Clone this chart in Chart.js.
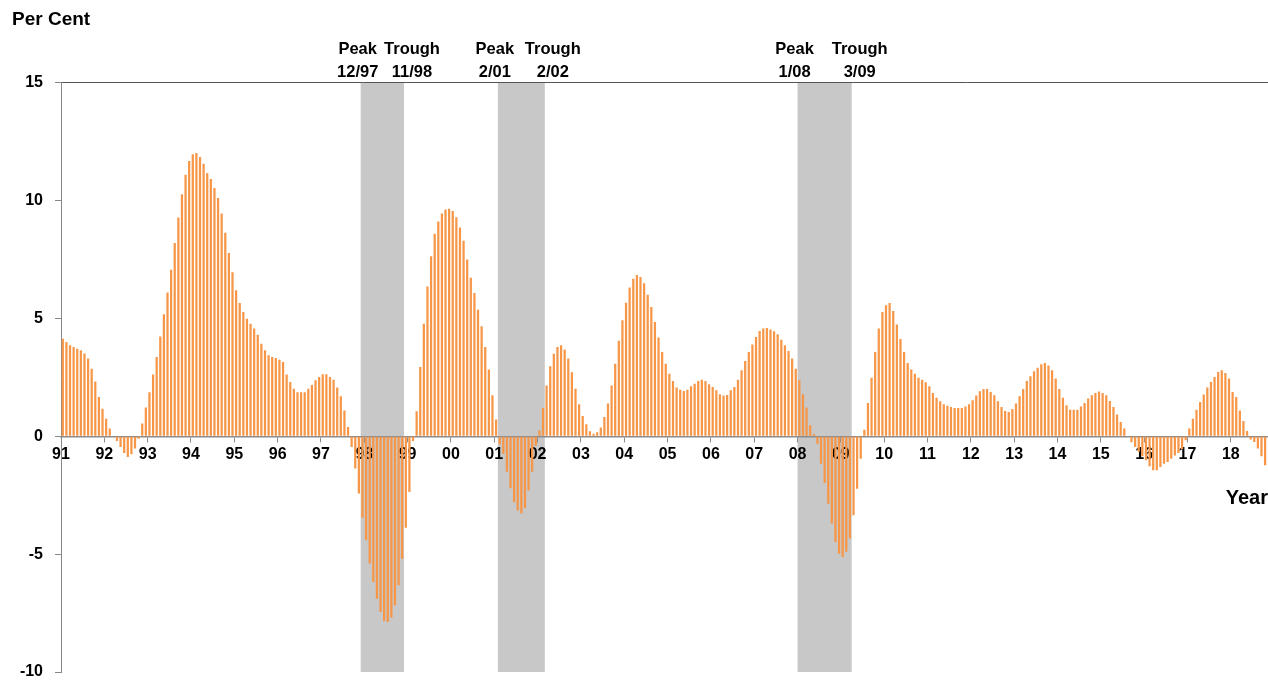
<!DOCTYPE html>
<html>
<head>
<meta charset="utf-8">
<script src="https://cdn.jsdelivr.net/npm/chart.js@4.4.1/dist/chart.umd.min.js"></script>
<style>
  html, body { margin: 0; padding: 0; background: #fff; }
  #wrap { width: 1268px; height: 682px; position: relative; }
</style>
</head>
<body>
<div id="wrap"><canvas id="chart"></canvas></div>
<script>
const FONT = "'Liberation Sans', Arial, sans-serif";

// one label per January, starting 1991
const years = ['91', '92', '93', '94', '95', '96', '97', '98', '99', '00', '01', '02', '03', '04',
    '05', '06', '07', '08', '09', '10', '11', '12', '13', '14', '15', '16', '17', '18'];

// monthly values (per cent), Jan 1991 .. Oct 2018
const values = [
    4.14, 4.0, 3.86, 3.79, 3.72, 3.65, 3.51, 3.3, 2.87, 2.33, 1.67, 1.17,          // 91
    0.75, 0.33, 0.02, -0.2, -0.45, -0.71, -0.88, -0.76, -0.52, -0.1, 0.54, 1.22,   // 92
    1.87, 2.62, 3.37, 4.24, 5.18, 6.1, 7.07, 8.2, 9.28, 10.27, 11.1, 11.68,       // 93
    11.97, 12.02, 11.85, 11.57, 11.17, 10.92, 10.54, 10.11, 9.45, 8.64, 7.78, 6.96, // 94
    6.2, 5.66, 5.28, 4.99, 4.78, 4.57, 4.31, 3.93, 3.65, 3.44, 3.37, 3.32,        // 95
    3.25, 3.15, 2.62, 2.3, 2.02, 1.87, 1.87, 1.87, 2.02, 2.18, 2.38, 2.52,        // 96
    2.63, 2.63, 2.52, 2.4, 2.07, 1.7, 1.1, 0.4, -0.45, -1.37, -2.43, -3.45,       // 97
    -4.41, -5.4, -6.18, -6.89, -7.45, -7.84, -7.88, -7.69, -7.17, -6.32, -5.19, -3.88, // 98
    -2.36, -0.2, 1.06, 2.94, 4.78, 6.36, 7.64, 8.6, 9.12, 9.45, 9.62, 9.66,       // 99
    9.56, 9.3, 8.86, 8.3, 7.5, 6.73, 6.08, 5.37, 4.67, 3.79, 2.83, 1.74,          // 00
    0.71, -0.35, -0.75, -1.5, -2.2, -2.8, -3.15, -3.28, -3.05, -2.3, -1.5, -0.4,  // 01
    0.25, 1.2, 2.16, 2.97, 3.5, 3.79, 3.86, 3.68, 3.3, 2.72, 2.02, 1.36,          // 02
    0.86, 0.51, 0.21, 0.11, 0.17, 0.37, 0.82, 1.39, 2.16, 3.08, 4.05, 4.92,       // 03
    5.67, 6.31, 6.69, 6.85, 6.76, 6.5, 6.01, 5.49, 4.85, 4.19, 3.58, 3.08,        // 04
    2.66, 2.35, 2.07, 1.98, 1.92, 1.98, 2.12, 2.23, 2.35, 2.4, 2.35, 2.21,        // 05
    2.09, 1.95, 1.78, 1.73, 1.75, 1.95, 2.09, 2.4, 2.8, 3.2, 3.58, 3.9,           // 06
    4.21, 4.47, 4.57, 4.6, 4.53, 4.46, 4.33, 4.1, 3.86, 3.62, 3.3, 2.87,          // 07
    2.38, 1.78, 1.22, 0.47, 0.1, -0.31, -1.16, -1.98, -2.86, -3.7, -4.48, -4.98,  // 08
    -5.12, -4.9, -4.34, -3.35, -2.22, -0.95, 0.28, 1.41, 2.49, 3.58, 4.57, 5.28,  // 09
    5.56, 5.66, 5.32, 4.74, 4.13, 3.58, 3.11, 2.83, 2.66, 2.49, 2.4, 2.29,        // 10
    2.12, 1.84, 1.64, 1.49, 1.36, 1.3, 1.24, 1.2, 1.2, 1.2, 1.27, 1.36,           // 11
    1.53, 1.73, 1.91, 2.01, 2.01, 1.88, 1.74, 1.49, 1.24, 1.07, 1.03, 1.16,       // 12
    1.39, 1.7, 2.01, 2.35, 2.55, 2.76, 2.91, 3.06, 3.11, 3.01, 2.8, 2.45,         // 13
    2.01, 1.64, 1.32, 1.13, 1.13, 1.13, 1.27, 1.41, 1.6, 1.74, 1.84, 1.9,         // 14
    1.84, 1.74, 1.5, 1.24, 0.93, 0.61, 0.33, 0.02, -0.25, -0.45, -0.66, -0.85,    // 15
    -1.02, -1.27, -1.44, -1.44, -1.3, -1.16, -1.09, -0.95, -0.81, -0.71, -0.54, -0.17, // 16
    0.33, 0.75, 1.13, 1.46, 1.77, 2.07, 2.31, 2.52, 2.73, 2.8, 2.69, 2.45,        // 17
    1.88, 1.67, 1.1, 0.65, 0.23, -0.14, -0.24, -0.52, -0.85, -1.23                // 18
];

// shaded periods: first month in, month after the last one (counted from Jan 1991)
const bandStart = [83, 121, 204];
const bandEnd = [95, 134, 219];
const peakDates = ['12/97', '2/01', '1/08'];
const troughDates = ['11/98', '2/02', '3/09'];

const recessionBands = {
    id: 'recessionBands',

    beforeDraw(chart) {
        const { ctx, chartArea: { top, bottom }, scales: { x } } = chart;
        ctx.save();
        ctx.fillStyle = '#c8c8c8';
        bandStart.forEach((start, i) => {
            const left = x.getPixelForValue(start);
            const right = x.getPixelForValue(bandEnd[i]);
            ctx.fillRect(left, top, right - left, bottom - top);
        });
        ctx.restore();
    },

    afterDraw(chart) {
        const { ctx, chartArea: { top }, scales: { x } } = chart;
        ctx.save();
        ctx.font = 'bold 16.5px ' + FONT;
        ctx.fillStyle = '#000';
        ctx.textAlign = 'center';
        ctx.textBaseline = 'middle';
        bandStart.forEach((start, i) => {
            const peakX = x.getPixelForValue(start) - 3;
            const troughX = x.getPixelForValue(bandEnd[i]) + 8;
            ctx.fillText('Peak', peakX, top - 33);
            ctx.fillText(peakDates[i], peakX, top - 10);
            ctx.fillText('Trough', troughX, top - 33);
            ctx.fillText(troughDates[i], troughX, top - 10);
        });
        ctx.restore();
    }
};

new Chart(document.getElementById('chart'), {
    type: 'bar',
    plugins: [recessionBands],
    data: {
        datasets: [{
            data: values.map((v, i) => ({ x: i + 0.5, y: v })),
            backgroundColor: '#f79646',
            borderWidth: 0,
            barPercentage: 0.62,
            categoryPercentage: 1.0,
        }]
    },
    options: {
        responsive: true,
        maintainAspectRatio: false,
        animation: false,
        layout: { padding: { left: 12, right: 0, top: 0, bottom: 0 } },
        plugins: {
            legend: { display: false },
            tooltip: { enabled: false },
            title: {
                display: true,
                text: 'Per Cent',
                align: 'start',
                color: '#000',
                font: { family: FONT, size: 19, weight: 'bold' },
                padding: { top: 8, bottom: 52 },
            },
        },
        scales: {
            x: {
                type: 'linear',
                position: { y: 0 },
                z: 1, // year labels sit on top of the bars
                min: 0,
                max: 334.3, // plot is cut at the right edge, just past Oct 2018
                offset: false,
                grid: { offset: false, drawOnChartArea: false, tickLength: 5, tickColor: '#8c8c8c' },
                border: { color: '#8c8c8c', width: 1.5 },
                ticks: {
                    stepSize: 12,
                    includeBounds: false,
                    autoSkip: false,
                    maxRotation: 0,
                    padding: 4,
                    color: '#000',
                    font: { family: FONT, size: 16, weight: 'bold' },
                    callback: (v) => (v % 12 === 0 ? years[v / 12] : null),
                },
                title: {
                    display: true,
                    text: 'Year',
                    align: 'end',
                    color: '#000',
                    font: { family: FONT, size: 20, weight: 'bold' },
                    padding: { top: 18, bottom: 0 },
                },
            },
            y: {
                min: -10,
                max: 15,
                ticks: {
                    stepSize: 5,
                    padding: 12,
                    color: '#000',
                    font: { family: FONT, size: 16, weight: 'bold' },
                },
                grid: {
                    color: (c) => (c.tick && c.tick.value === 15 ? '#555' : 'transparent'),
                    tickColor: '#888',
                    tickLength: 6,
                },
                border: { color: '#888', width: 1 },
                afterFit: (scale) => {
                    scale.width = 49;
                    scale.paddingTop = 0;
                    scale.paddingBottom = 10;
                },
            },
        },
    },
});
</script>
</body>
</html>
